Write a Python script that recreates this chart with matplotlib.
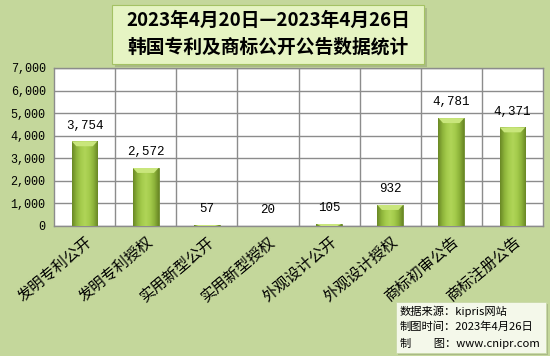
import matplotlib
matplotlib.use("Agg")
import matplotlib.pyplot as plt
import numpy as np
from matplotlib.patches import Rectangle, Polygon
from matplotlib.colors import LinearSegmentedColormap
from matplotlib.ticker import FuncFormatter, MultipleLocator

plt.rcParams['font.family'] = ['Noto Sans CJK SC', 'DejaVu Sans']

categories = ['发明专利公开', '发明专利授权', '实用新型公开', '实用新型授权',
              '外观设计公开', '外观设计授权', '商标初审公告', '商标注册公告']
values = [3754, 2572, 57, 20, 105, 932, 4781, 4371]
title_lines = ['2023年4月20日—2023年4月26日', '韩国专利及商标公开公告数据统计']
source_lines = ['数据来源：kipris网站', '制图时间：2023年4月26日', '制　　图：www.cnipr.com']

BG = '#c4d79b'
W, H = 550, 356
fig = plt.figure(figsize=(W / 100, H / 100), dpi=100, facecolor=BG)
ax = fig.add_axes([54 / W, 1 - 226 / H, (543 - 54) / W, (226 - 68) / H])
ax.set_facecolor('white')

x = np.arange(len(categories))
bw = 0.42
bars = ax.bar(x, values, width=bw, color='#9bbb59', edgecolor='#6b8a2a', linewidth=0.6, zorder=3)

ax.set_xlim(-0.5, len(categories) - 0.5)
ax.set_ylim(0, 7000)
ax.yaxis.set_major_locator(MultipleLocator(1000))
ax.yaxis.set_major_formatter(FuncFormatter(lambda v, p: f'{int(v):,}'))

# gradient fill for bars
cmap = LinearSegmentedColormap.from_list('g', ['#6a8825', '#8db33a', '#a4cb4c', '#b0d558', '#a4cb4c', '#8db33a', '#6a8825'])
grad = np.linspace(0, 1, 64).reshape(1, -1)
px = 7000 / 158.0
for b in bars:
    bx, by = b.get_x(), b.get_y()
    bwid, bh = b.get_width(), b.get_height()
    im = ax.imshow(grad, cmap=cmap, extent=[bx, bx + bwid, by, by + bh], aspect='auto', zorder=3.5)
    im.set_clip_path(b)
    # top bevel (trapezoid)
    cap = min(bh, 5 * px)
    inset = bwid * 0.18
    top = by + bh
    poly = Polygon([(bx, top), (bx + bwid, top), (bx + bwid - inset, top - cap), (bx + inset, top - cap)],
                   closed=True, facecolor='#c9e67c', edgecolor='none', zorder=3.6)
    ax.add_patch(poly)
    poly.set_clip_path(b)
ax.set_xlim(-0.5, len(categories) - 0.5)
ax.set_ylim(0, 7000)

# grid
ax.grid(axis='y', color='#8c8c8c', linewidth=1.0, zorder=1)
for i in range(1, len(categories)):
    ax.axvline(i - 0.5, color='#8c8c8c', linewidth=1.0, zorder=1)
for s in ax.spines.values():
    s.set_color('#8c8c8c')
    s.set_linewidth(1.0)

ax.set_xticks(x)
ax.set_xticklabels(categories, rotation=40, ha='right', rotation_mode='anchor', fontsize=11)
ax.tick_params(axis='x', length=0, pad=5)
ax.tick_params(axis='y', length=0, pad=6, labelsize=8.5)
for lab in ax.get_yticklabels():
    lab.set_family(['Liberation Mono', 'DejaVu Sans'])

for xi, v in zip(x, values):
    ax.annotate(f'{v:,}', (xi, v), xytext=(0, 7), textcoords='offset points',
                ha='center', va='bottom', fontsize=9, family=['Liberation Mono', 'DejaVu Sans'], zorder=5)

# title box
tb_x0, tb_y0, tb_x1, tb_y1 = 112, 5, 424, 64
shadow = Rectangle(((tb_x0 + 3) / W, 1 - (tb_y1 + 3) / H), (tb_x1 - tb_x0) / W, (tb_y1 - tb_y0) / H,
                   transform=fig.transFigure, facecolor='#9aa878', edgecolor='none', alpha=0.6, zorder=9)
fig.patches.append(shadow)
tbox = Rectangle((tb_x0 / W, 1 - tb_y1 / H), (tb_x1 - tb_x0) / W, (tb_y1 - tb_y0) / H,
                 transform=fig.transFigure, facecolor='#e6f4c3', edgecolor='#a4c264', linewidth=0.8, zorder=10)
fig.patches.append(tbox)
fig.text((tb_x0 + tb_x1) / 2 / W, 1 - 20 / H, title_lines[0], ha='center', va='center',
         fontsize=13.5, fontweight='bold', zorder=11)
fig.text((tb_x0 + tb_x1) / 2 / W, 1 - 47 / H, title_lines[1], ha='center', va='center',
         fontsize=13.5, fontweight='bold', zorder=11)

# source box
sb_x0, sb_y0, sb_x1, sb_y1 = 396, 302, 546, 353
shadow2 = Rectangle(((sb_x0 + 2) / W, 1 - (sb_y1 + 2) / H), (sb_x1 - sb_x0) / W, (sb_y1 - sb_y0) / H,
                    transform=fig.transFigure, facecolor='#9aa878', edgecolor='none', alpha=0.6, zorder=9)
fig.patches.append(shadow2)
sbox = Rectangle((sb_x0 / W, 1 - sb_y1 / H), (sb_x1 - sb_x0) / W, (sb_y1 - sb_y0) / H,
                 transform=fig.transFigure, facecolor='#f4f8ea', edgecolor='#c9d9a8', linewidth=0.6, zorder=10)
fig.patches.append(sbox)
for i, line in enumerate(source_lines):
    fig.text((sb_x0 + 4) / W, 1 - (311 + i * 16) / H, line, ha='left', va='center', fontsize=8.1, zorder=11)

fig.savefig('out.png', dpi=100, facecolor=BG)
